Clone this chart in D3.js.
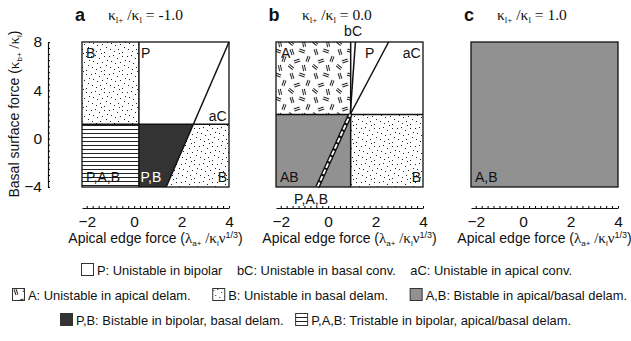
<!DOCTYPE html>
<html>
<head>
<meta charset="utf-8">
<script src="https://cdn.jsdelivr.net/npm/d3@7"></script>
<style>
body { margin: 0; background: #fff; }
text { font-family: Arial, "Liberation Sans", sans-serif; fill: #111; }
.serif { font-family: "Liberation Serif", "Times New Roman", serif; }
</style>
</head>
<body>
<svg id="chart" width="631" height="341"></svg>
<script>
// ---- data ----
const xTicks = [-2, 0, 2, 4];
const yTicks = [-4, 0, 4, 8];
const panelLetters = ['a', 'b', 'c'];
const kappaRatios = ['-1.0', '0.0', '1.0'];

// panel a boundaries
const aVertical = 0.2;
const aHorizontal = 1.2;
const aDiagonal = [[1.35, -4], [4, 8]];

// panel b boundaries
const bVertical = 0.95;
const bHorizontal = 2.0;
const bConvLine = [[0.93, 2], [1.15, 8]];
const bDiagonal = [[0.93, 2], [2.55, 8]];
const bStrip = [[-0.45, -4], [0.93, 2]];

const legendRows = [
    [['white', 'P: Unistable in bipolar'], [null, 'bC: Unistable in basal conv.'], [null, 'aC: Unistable in apical conv.']],
    [['apical', 'A: Unistable in apical delam.'], ['dots', 'B: Unistable in basal delam.'], ['gray', 'A,B: Bistable in apical/basal delam.']],
    [['dark', 'P,B: Bistable in bipolar, basal delam.'], ['hlines', 'P,A,B: Tristable in bipolar, apical/basal delam.']]
];

// ---- layout ----
const panelLeft = [82, 276, 471];
const panelWidth = 147;
const plotTop = 42, plotBottom = 187;
const xDomain = [-2.2, 4];
const yDomain = [-4, 8];
const GRAY = '#919191', DARK = '#333333';

const svg = d3.select('#chart');
const defs = svg.append('defs');

// stipple pattern for B
const dotPat = defs.append('pattern').attr('id', 'dots')
    .attr('patternUnits', 'userSpaceOnUse').attr('width', 18).attr('height', 18);
dotPat.append('rect').attr('width', 18).attr('height', 18).attr('fill', '#fff');
[[1, 2], [5, 1], [9, 4], [14, 2], [3, 7], [7, 9], [12, 8], [16, 11], [2, 13], [6, 15], [10, 13], [14, 16], [17, 6], [11, 17]]
    .forEach(p => dotPat.append('rect').attr('x', p[0]).attr('y', p[1])
        .attr('width', 1).attr('height', 1).attr('fill', '#222'));

// horizontal hatching for P,A,B
const hPat = defs.append('pattern').attr('id', 'hlines')
    .attr('patternUnits', 'userSpaceOnUse').attr('width', 8).attr('height', 4);
hPat.append('rect').attr('width', 8).attr('height', 4).attr('fill', '#fff');
hPat.append('rect').attr('y', 1).attr('width', 8).attr('height', 1).attr('fill', '#222');

// double dashes for A
const aPat = defs.append('pattern').attr('id', 'apical')
    .attr('patternUnits', 'userSpaceOnUse').attr('width', 24).attr('height', 24);
aPat.append('rect').attr('width', 24).attr('height', 24).attr('fill', '#fff');
[[4, 4, 70], [14, 3, 20], [20, 11, 110], [9, 13, 160], [3, 19, 40], [16, 20, 80]]
    .forEach(m => {
        const g = aPat.append('g').attr('transform', 'translate(' + m[0] + ',' + m[1] + ') rotate(' + m[2] + ')');
        g.append('line').attr('x1', -3).attr('x2', 3).attr('y1', -1).attr('y2', -1).attr('stroke', '#222').attr('stroke-width', 1);
        g.append('line').attr('x1', -3).attr('x2', 3).attr('y1', 1).attr('y2', 1).attr('stroke', '#222').attr('stroke-width', 1);
    });

const fills = {white: '#fff', dots: 'url(#dots)', hlines: 'url(#hlines)', apical: 'url(#apical)', gray: GRAY, dark: DARK};

function xAt(seg, yv) {
    const [p, q] = seg;
    return p[0] + (yv - p[1]) / (q[1] - p[1]) * (q[0] - p[0]);
}

panelLetters.forEach((letter, i) => {
    const L = panelLeft[i];
    const x = d3.scaleLinear().domain(xDomain).range([L, L + panelWidth]);
    const y = d3.scaleLinear().domain(yDomain).range([plotBottom, plotTop]);
    const g = svg.append('g');
    const line = d3.line().x(d => x(d[0])).y(d => y(d[1]));
    const [x0, x1] = xDomain, [y0, y1] = yDomain;

    let regions = [], bounds = [], labels = [];
    if (i === 0) {
        const xh = xAt(aDiagonal, aHorizontal);
        const xb = aDiagonal[0][0];
        regions = [
            ['dots', [[x0, aHorizontal], [aVertical, aHorizontal], [aVertical, y1], [x0, y1]]],
            ['white', [[aVertical, aHorizontal], [xh, aHorizontal], [x1, y1], [aVertical, y1]]],
            ['white', [[xh, aHorizontal], [x1, aHorizontal], [x1, y1]]],
            ['hlines', [[x0, y0], [aVertical, y0], [aVertical, aHorizontal], [x0, aHorizontal]]],
            ['dark', [[aVertical, y0], [xb, y0], [xh, aHorizontal], [aVertical, aHorizontal]]],
            ['dots', [[xb, y0], [x1, y0], [x1, aHorizontal], [xh, aHorizontal]]]
        ];
        bounds = [[[x0, aHorizontal], [x1, aHorizontal]], [[aVertical, y0], [aVertical, y1]], aDiagonal];
        labels = [['B', -2.03, 6.7, 'start', '#111'], ['P', 0.29, 6.7, 'start', '#111'], ['aC', 3.9, 1.45, 'end', '#111'],
            ['P,A,B', -2.03, -3.6, 'start', '#111'], ['P,B', 0.27, -3.6, 'start', '#fff'], ['B', 3.92, -3.6, 'end', '#111']];
    } else if (i === 1) {
        regions = [
            ['apical', [[x0, bHorizontal], [bVertical, bHorizontal], [bVertical, y1], [x0, y1]]],
            ['gray', [[x0, y0], [bVertical, y0], [bVertical, bHorizontal], [x0, bHorizontal]]],
            ['dots', [[bVertical, y0], [x1, y0], [x1, bHorizontal], [bVertical, bHorizontal]]]
        ];
        bounds = [[[x0, bHorizontal], [x1, bHorizontal]], [[bVertical, y0], [bVertical, y1]], bConvLine, bDiagonal];
        labels = [['A', -1.99, 6.7, 'start', '#111'], ['P', 1.55, 6.7, 'start', '#111'], ['aC', 3.9, 6.7, 'end', '#111'],
            ['bC', 1.05, 8.5, 'middle', '#111'], ['AB', -2.03, -3.6, 'start', '#111'], ['B', 3.92, -3.6, 'end', '#111'],
            ['P,A,B', -0.72, -5.4, 'middle', '#111']];
    } else {
        regions = [['gray', [[x0, y0], [x1, y0], [x1, y1], [x0, y1]]]];
        labels = [['A,B', -2.03, -3.6, 'start', '#111']];
    }

    regions.forEach(r => g.append('path').attr('d', line(r[1]) + 'Z').attr('fill', fills[r[0]]).attr('stroke', 'none'));
    bounds.forEach(b => g.append('path').attr('d', line(b)).attr('fill', 'none').attr('stroke', '#111').attr('stroke-width', 1.5));
    if (i === 1) {
        g.append('path').attr('d', line(bStrip)).attr('stroke', '#111').attr('stroke-width', 4.5).attr('fill', 'none');
        g.append('path').attr('d', line(bStrip)).attr('stroke', '#fff').attr('stroke-width', 1.8)
            .attr('stroke-dasharray', '5,2').attr('fill', 'none');
    }
    g.append('rect').attr('x', x(x0)).attr('y', y(y1)).attr('width', x(x1) - x(x0)).attr('height', y(y0) - y(y1))
        .attr('fill', 'none').attr('stroke', '#111').attr('stroke-width', 1.3);

    labels.forEach(l => g.append('text').attr('x', x(l[1])).attr('y', y(l[2]))
        .attr('text-anchor', l[3]).style('fill', l[4]).attr('font-size', 14).text(l[0]));

    // x axis (minor ticks up, labels below)
    const xAxisY = 208;
    g.append('g').attr('transform', 'translate(0,' + xAxisY + ')')
        .call(d3.axisTop(x).tickValues(d3.range(-2, 4.001, 0.25)).tickSize(2).tickSizeOuter(0).tickFormat(''))
        .call(a => a.select('.domain').attr('stroke', '#111').attr('stroke-width', 1.2));
    g.append('g').attr('transform', 'translate(0,' + xAxisY + ')')
        .call(d3.axisBottom(x).tickValues(xTicks).tickSize(0).tickPadding(8).tickFormat(d3.format('d')))
        .call(a => a.select('.domain').remove())
        .call(a => a.selectAll('text').attr('font-size', 15.5).attr('font-family', null));

    // x title
    const xt = g.append('text').attr('x', L + panelWidth / 2).attr('y', 243).attr('text-anchor', 'middle').attr('font-size', 14);
    xt.append('tspan').text('Apical edge force (');
    xt.append('tspan').attr('class', 'serif').attr('font-size', 15).text('λ');
    xt.append('tspan').attr('font-size', 8).attr('dy', 3).text('a+');
    xt.append('tspan').attr('class', 'serif').attr('font-size', 15).attr('dy', -3).text(' /κ');
    xt.append('tspan').attr('font-size', 8).attr('dy', 3).text('l');
    xt.append('tspan').attr('class', 'serif').attr('font-size', 15).attr('dy', -3).text('ν');
    xt.append('tspan').attr('font-size', 9).attr('dy', -5).text('1/3');
    xt.append('tspan').attr('dy', 5).text(')');

    // panel title
    svg.append('text').attr('x', L - 2).attr('y', 21).attr('text-anchor', 'middle')
        .attr('font-size', 18).attr('font-weight', 'bold').text(letter);
    const kt = svg.append('text').attr('class', 'serif').attr('x', L + 26).attr('y', 20).attr('font-size', 15.5);
    kt.append('tspan').text('κ');
    kt.append('tspan').attr('font-size', 9).attr('dy', 3).text('l+');
    kt.append('tspan').attr('dy', -3).text(' /κ');
    kt.append('tspan').attr('font-size', 9).attr('dy', 3).text('l');
    kt.append('tspan').attr('dy', -3).text(' = ' + kappaRatios[i]);

    if (i === 0) {
        const yAxisX = 48;
        g.append('g').attr('transform', 'translate(' + yAxisX + ',0)')
            .call(d3.axisRight(y).tickValues(d3.range(-4, 8.001, 0.5)).tickSize(2).tickSizeOuter(0).tickFormat(''))
            .call(a => a.select('.domain').attr('stroke', '#111').attr('stroke-width', 1.2));
        g.append('g').attr('transform', 'translate(' + yAxisX + ',0)')
            .call(d3.axisLeft(y).tickValues(yTicks).tickSize(0).tickPadding(6).tickFormat(d3.format('d')))
            .call(a => a.select('.domain').remove())
            .call(a => a.selectAll('text').attr('font-size', 15.5).attr('font-family', null));

        const yt = svg.append('text').attr('transform', 'translate(19,114) rotate(-90)')
            .attr('text-anchor', 'middle').attr('font-size', 14);
        yt.append('tspan').text('Basal surface force (');
        yt.append('tspan').attr('class', 'serif').attr('font-size', 15).text('κ');
        yt.append('tspan').attr('font-size', 8).attr('dy', 3).text('b+');
        yt.append('tspan').attr('class', 'serif').attr('font-size', 15).attr('dy', -3).text(' /κ');
        yt.append('tspan').attr('font-size', 8).attr('dy', 3).text('l');
        yt.append('tspan').attr('dy', -3).text(')');
    }
});

// ---- legend: each row spread between its left and right ends ----
const legendY = [275, 300, 325];
const legendSpan = [[81, 572], [12, 627], [60, 571]];
legendRows.forEach((row, r) => {
    const g = svg.append('g');
    const items = row.map(item => {
        const ig = g.append('g');
        let w = 0;
        if (item[0]) {
            ig.append('rect').attr('x', 0.5).attr('y', legendY[r] - 11.5).attr('width', 12).attr('height', 12)
                .attr('fill', fills[item[0]]).attr('stroke', '#333').attr('stroke-width', 1);
            w = 16;
        }
        const t = ig.append('text').attr('x', w).attr('y', legendY[r]).attr('font-size', 12.9).text(item[1]);
        w += t.node().getComputedTextLength();
        return {ig, w};
    });
    const total = d3.sum(items, d => d.w);
    const [s, e] = legendSpan[r];
    const gap = (e - s - total) / (items.length - 1);
    let cx = s;
    items.forEach(d => {
        d.ig.attr('transform', 'translate(' + cx + ',0)');
        cx += d.w + gap;
    });
});
</script>
</body>
</html>
